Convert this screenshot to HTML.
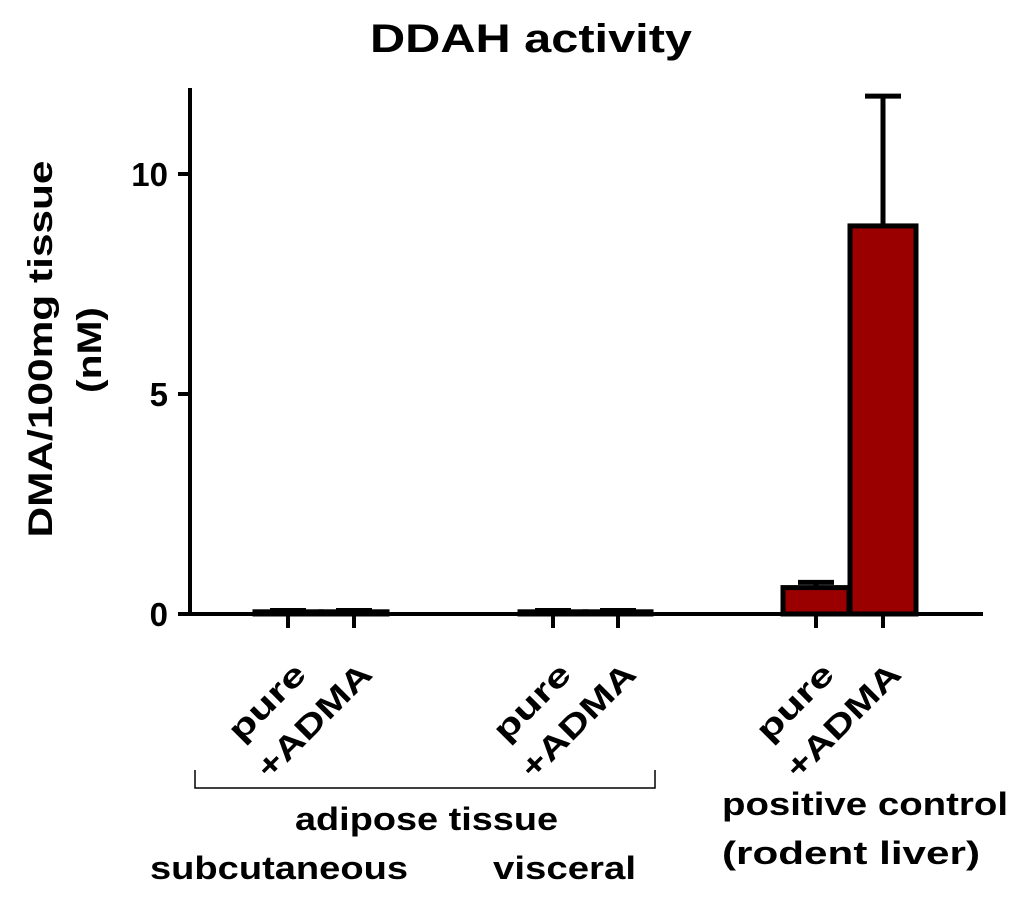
<!DOCTYPE html>
<html><head><meta charset="utf-8"><style>
html,body{margin:0;padding:0;background:#fff;}
svg text{font-family:"Liberation Sans",Arial,sans-serif;font-weight:bold;fill:#000;}
</style></head><body>
<svg id="chart" width="1024" height="896" viewBox="0 0 1024 896" xmlns="http://www.w3.org/2000/svg">
<text x="370" y="52" font-size="40" textLength="322" lengthAdjust="spacingAndGlyphs">DDAH activity</text>
<g>
<text transform="translate(52,349) rotate(-90)" font-size="34" text-anchor="middle" textLength="377" lengthAdjust="spacingAndGlyphs">DMA/100mg tissue</text>
<text transform="translate(101,350) rotate(-90)" font-size="34" text-anchor="middle" textLength="86" lengthAdjust="spacingAndGlyphs">(nM)</text>
</g>
<g id="bars"></g>
<g id="axes"></g>
<g id="labels"></g>
<g>
<path d="M195,770 V788 H655 V770" fill="none" stroke="#000" stroke-width="1.5"/>
</g>
<text x="295" y="830" font-size="32" textLength="263" lengthAdjust="spacingAndGlyphs">adipose tissue</text>
<text x="150" y="879" font-size="32" textLength="258" lengthAdjust="spacingAndGlyphs">subcutaneous</text>
<text x="493" y="879" font-size="32" textLength="143" lengthAdjust="spacingAndGlyphs">visceral</text>
<text x="722" y="815" font-size="32" textLength="286" lengthAdjust="spacingAndGlyphs">positive control</text>
<text x="722" y="864" font-size="32" textLength="258" lengthAdjust="spacingAndGlyphs">(rodent liver)</text>
</svg>
<script>
const categories = ["subcutaneous pure","subcutaneous +ADMA","visceral pure","visceral +ADMA","liver pure","liver +ADMA"];
const tickLabels = ["pure","+ADMA","pure","+ADMA","pure","+ADMA"];
const values = [0.05,0.05,0.05,0.05,0.6,8.82];
const errors = [0.03,0.03,0.03,0.03,0.12,2.95];
const yTicks = [0,5,10];

const NS="http://www.w3.org/2000/svg";
const y0=614, pxPerUnit=44, axisX=190, axisEnd=983, barW=66;
const centers=[288,354,553,618,816,883];
function yScale(v){return y0 - v*pxPerUnit;}
function xScale(i){return centers[i];}
function mk(tag,attrs,parent){const e=document.createElementNS(NS,tag);for(const k in attrs)e.setAttribute(k,attrs[k]);parent.appendChild(e);return e;}
const bars=document.getElementById('bars'), axes=document.getElementById('axes'), labels=document.getElementById('labels');

categories.forEach((c,i)=>{
  const cx=xScale(i), top=yScale(values[i]);
  const eb=mk('path',{d:`M${cx},${top} V${yScale(values[i]+errors[i])} M${cx-18},${yScale(values[i]+errors[i])} H${cx+18}`,stroke:'#000','stroke-width':5,fill:'none'},bars);
  
  
  const r=mk('rect',{x:cx-barW/2,y:top,width:barW,height:y0-top,fill:'#9b0000',stroke:'#000','stroke-width':5},bars);
  
  
  const t=mk('line',{x1:cx,y1:y0,x2:cx,y2:y0+14,stroke:'#000','stroke-width':4},axes);
  
  
  const len = tickLabels[i]==="pure" ? 95 : 148;
  const lb=mk('text',{transform:`translate(${cx+20},676) rotate(-45)`,'font-size':32,'text-anchor':'end',textLength:len,lengthAdjust:'spacingAndGlyphs'},labels);
  lb.textContent=tickLabels[i];
  
  
});
const ya=mk('line',{x1:axisX,y1:88,x2:axisX,y2:y0+2,stroke:'#000','stroke-width':4},axes);


const xa=mk('line',{x1:axisX-2,y1:y0,x2:axisEnd,y2:y0,stroke:'#000','stroke-width':4},axes);


yTicks.forEach(v=>{
  const t=mk('line',{x1:axisX-12,y1:yScale(v),x2:axisX,y2:yScale(v),stroke:'#000','stroke-width':4},axes);
  
  
  const l=mk('text',{x:axisX-22,y:yScale(v)+12,'font-size':33,'text-anchor':'end'},axes);
  l.textContent=v;
  
  
});
</script>
</body></html>
